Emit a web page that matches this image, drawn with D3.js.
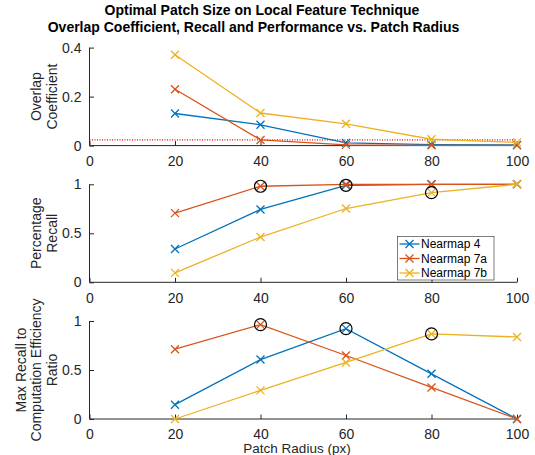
<!DOCTYPE html>
<html>
<head>
<meta charset="utf-8">
<script src="https://cdn.jsdelivr.net/npm/d3@7"></script>
<style>
  body { margin: 0; background: #fff; }
  svg { font-family: "Liberation Sans", Arial, sans-serif; }
</style>
</head>
<body>
<div class="chart"></div>
<script>
// data
const radius = [20, 40, 60, 80, 100];
const seriesNames = ["Nearmap 4", "Nearmap 7a", "Nearmap 7b"];
const seriesColors = ["#0072BD", "#D95319", "#EDB120"];

const overlap4 = [0.131, 0.085, 0.011, 0.004, 0.003];
const overlap7a = [0.230, 0.023, 0.003, 0.001, 0.001];
const overlap7b = [0.371, 0.133, 0.089, 0.026, 0.013];
const overlapThreshold = 0.023;

const recall4 = [0.34, 0.743, 0.99, 1.0, 1.0];
const recall7a = [0.706, 0.98, 1.0, 1.0, 1.0];
const recall7b = [0.096, 0.462, 0.753, 0.915, 1.0];

const ratio4 = [0.146, 0.607, 0.922, 0.461, 0.0];
const ratio7a = [0.712, 0.963, 0.648, 0.322, 0.0];
const ratio7b = [0.0, 0.292, 0.577, 0.868, 0.837];

// index of the best radius per series (circled)
const bestIndex = [2, 1, 3];

const xTicks = [0, 20, 40, 60, 80, 100];
const titleLines = ["Optimal Patch Size on Local Feature Technique",
                    "Overlap Coefficient, Recall and Performance vs. Patch Radius"];

const width = 535, height = 455;
const axisColor = "#262626";
const left = 89.5, right = 517;

const svg = d3.select(".chart").append("svg")
    .attr("width", width)
    .attr("height", height);

const x = d3.scaleLinear().domain([0, 100]).range([left, right]);

// title
svg.append("text").attr("x", 262).attr("y", 15)
    .attr("text-anchor", "middle").attr("font-weight", "bold")
    .attr("font-size", 14).attr("fill", "#000").text(titleLines[0]);
svg.append("text").attr("x", 253.5).attr("y", 31.5)
    .attr("text-anchor", "middle").attr("font-weight", "bold")
    .attr("font-size", 14).attr("fill", "#000").text(titleLines[1]);

const panels = [
    { top: 47.6, bottom: 145.6, max: 0.4, yTicks: [0, 0.2, 0.4],
      data: [overlap4, overlap7a, overlap7b], label: ["Overlap", "Coefficient"], circles: false },
    { top: 184.3, bottom: 282.3, max: 1, yTicks: [0, 0.5, 1],
      data: [recall4, recall7a, recall7b], label: ["Percentage", "Recall"], circles: true },
    { top: 321, bottom: 419, max: 1, yTicks: [0, 0.5, 1],
      data: [ratio4, ratio7a, ratio7b], label: ["Max Recall to", "Computation Efficiency", "Ratio"], circles: true }
];

function drawMarker(g, px, py, color) {
    const s = 4;
    g.append("path")
        .attr("d", `M${px - s},${py - s}L${px + s},${py + s}M${px - s},${py + s}L${px + s},${py - s}`)
        .attr("stroke", color).attr("stroke-width", 1.3).attr("fill", "none");
}

panels.forEach((p, pi) => {
    const y = d3.scaleLinear().domain([0, p.max]).range([p.bottom, p.top]);
    const g = svg.append("g");

    // axes
    const xAxis = g.append("g").attr("transform", `translate(0,${p.bottom})`)
        .call(d3.axisBottom(x).tickValues(xTicks).tickSize(-4.5).tickPadding(7).tickFormat(d3.format("d")));
    const yAxis = g.append("g").attr("transform", `translate(${left},0)`)
        .call(d3.axisLeft(y).tickValues(p.yTicks).tickSize(-4.5).tickPadding(8).tickFormat(d => d === 0 || d === 1 ? d : d3.format(".1f")(d)));
    [xAxis, yAxis].forEach(a => {
        a.select(".domain").attr("stroke", axisColor).attr("stroke-width", 1)
            .attr("d", a === xAxis ? `M${left},0H${right}` : `M0,${p.bottom}V${p.top}`);
        a.selectAll(".tick line").attr("stroke", axisColor);
        a.selectAll(".tick text").attr("fill", axisColor).attr("font-size", 14)
            .attr("font-family", "Liberation Sans, Arial, sans-serif");
    });
    xAxis.selectAll(".tick text").attr("dy", "0.95em");

    // y label
    const lines = p.label;
    const mid = (p.top + p.bottom) / 2;
    const lineGap = 15.5;
    lines.forEach((t, li) => {
        const lx = 52 - (lines.length - 1 - li) * lineGap;
        svg.append("text")
            .attr("transform", `translate(${lx},${mid}) rotate(-90)`)
            .attr("text-anchor", "middle").attr("dy", "0.35em")
            .attr("font-size", 14).attr("fill", axisColor).text(t);
    });

    // threshold line on the overlap panel
    if (pi === 0) {
        g.append("line")
            .attr("x1", x(0)).attr("x2", x(100))
            .attr("y1", y(overlapThreshold)).attr("y2", y(overlapThreshold))
            .attr("stroke", "#ff0000").attr("stroke-width", 1.2)
            .attr("stroke-dasharray", "1,1.5");
    }

    const line = d3.line().x((d, i) => x(radius[i])).y(d => y(d));
    p.data.forEach((vals, si) => {
        const sg = g.append("g");
        sg.append("path").datum(vals).attr("d", line)
            .attr("fill", "none").attr("stroke", seriesColors[si]).attr("stroke-width", 1.3);
        vals.forEach((v, i) => drawMarker(sg, x(radius[i]), y(v), seriesColors[si]));
    });

    if (p.circles) {
        p.data.forEach((vals, si) => {
            const bi = bestIndex[si];
            g.append("circle").attr("cx", x(radius[bi])).attr("cy", y(vals[bi])).attr("r", 6)
                .attr("fill", "none").attr("stroke", "#000").attr("stroke-width", 1.2);
        });
    }
});

// legend in the recall panel
const legend = svg.append("g").attr("transform", "translate(397.5,236.5)");
legend.append("rect").attr("width", 96.5).attr("height", 43.5)
    .attr("fill", "#fff").attr("stroke", "#262626").attr("stroke-width", 0.6);
seriesNames.forEach((name, i) => {
    const ly = 7.5 + i * 14.5;
    legend.append("line").attr("x1", 2).attr("x2", 22).attr("y1", ly).attr("y2", ly)
        .attr("stroke", seriesColors[i]).attr("stroke-width", 1.3);
    drawMarker(legend, 12, ly, seriesColors[i]);
    legend.append("text").attr("x", 23.5).attr("y", ly).attr("dy", "0.35em")
        .attr("font-size", 12).attr("fill", "#000").text(name);
});

// x axis label (cut at the bottom edge, as in the original figure)
svg.append("text").attr("x", 297).attr("y", 453)
    .attr("text-anchor", "middle").attr("font-size", 13.5).attr("fill", axisColor)
    .text("Patch Radius (px)");
</script>
</body>
</html>
